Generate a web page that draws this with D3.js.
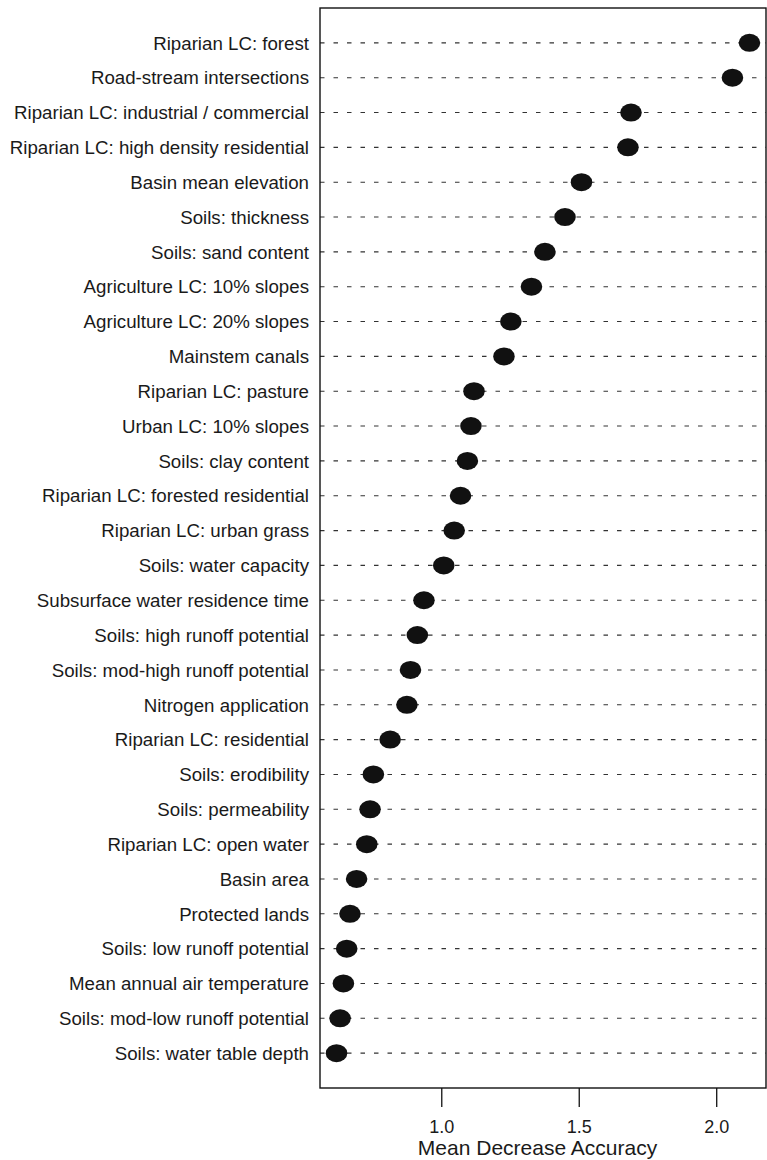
<!DOCTYPE html>
<html>
<head>
<meta charset="utf-8">
<script src="https://cdn.jsdelivr.net/npm/d3@7"></script>
<style>
  html, body { margin: 0; padding: 0; background: #fff; }
  svg { display: block; }
  text { font-family: "Liberation Sans", Arial, Helvetica, sans-serif; fill: #1a1a1a; }
</style>
</head>
<body>
<svg id="chart" width="767" height="1160"></svg>
<script>
// Predictor names, top to bottom
const variables = [
  "Riparian LC: forest",
  "Road-stream intersections",
  "Riparian LC: industrial / commercial",
  "Riparian LC: high density residential",
  "Basin mean elevation",
  "Soils: thickness",
  "Soils: sand content",
  "Agriculture LC: 10% slopes",
  "Agriculture LC: 20% slopes",
  "Mainstem canals",
  "Riparian LC: pasture",
  "Urban LC: 10% slopes",
  "Soils: clay content",
  "Riparian LC: forested residential",
  "Riparian LC: urban grass",
  "Soils: water capacity",
  "Subsurface water residence time",
  "Soils: high runoff potential",
  "Soils: mod-high runoff potential",
  "Nitrogen application",
  "Riparian LC: residential",
  "Soils: erodibility",
  "Soils: permeability",
  "Riparian LC: open water",
  "Basin area",
  "Protected lands",
  "Soils: low runoff potential",
  "Mean annual air temperature",
  "Soils: mod-low runoff potential",
  "Soils: water table depth"
];

// Mean decrease in accuracy for each predictor
const importance = [
  2.121, 2.059, 1.690, 1.679, 1.510, 1.450, 1.377, 1.328, 1.253, 1.228,
  1.119, 1.108, 1.095, 1.070, 1.047, 1.009, 0.937, 0.913, 0.888, 0.875,
  0.814, 0.753, 0.741, 0.729, 0.692, 0.668, 0.656, 0.644, 0.632, 0.619
];

const xTicks = [1.0, 1.5, 2.0];
const xTitle = "Mean Decrease Accuracy";

const svg = d3.select("#chart");
const box = { left: 320, right: 766, top: 8, bottom: 1088 };

// Axis range padded 4% on each side
const lo = d3.min(importance), hi = d3.max(importance);
const pad = (hi - lo) * 0.04;
const x = d3.scaleLinear().domain([lo - pad, hi + pad]).range([box.left, box.right]);

// Rows sit at integer positions 1..n inside [0, n+1]
const n = variables.length;
const y = d3.scaleLinear().domain([0, n + 1]).range([box.top, box.bottom]);
const rowPos = (d, i) => y(i + 1);

// Dotted guide lines
svg.append("g").selectAll("line")
  .data(variables)
  .join("line")
  .attr("x1", box.left).attr("x2", box.right)
  .attr("y1", rowPos).attr("y2", rowPos)
  .attr("stroke", "#333")
  .attr("stroke-width", 1.1)
  .attr("stroke-dasharray", "4.5 9");

// Row labels
svg.append("g").selectAll("text")
  .data(variables)
  .join("text")
  .attr("x", 309)
  .attr("y", rowPos)
  .attr("dy", "0.36em")
  .attr("text-anchor", "end")
  .attr("font-size", 18.7)
  .text(d => d);

// Points
svg.append("g").selectAll("ellipse")
  .data(importance)
  .join("ellipse")
  .attr("cx", d => x(d))
  .attr("cy", rowPos)
  .attr("rx", 10.8)
  .attr("ry", 9)
  .attr("fill", "#111");

// Plot frame
svg.append("rect")
  .attr("x", box.left).attr("y", box.top)
  .attr("width", box.right - box.left).attr("height", box.bottom - box.top)
  .attr("fill", "none").attr("stroke", "#111").attr("stroke-width", 1.4);

// Bottom axis
const axis = d3.axisBottom(x)
  .tickValues(xTicks)
  .tickFormat(d3.format(".1f"))
  .tickSize(19)
  .tickPadding(13);

const gAxis = svg.append("g")
  .attr("transform", `translate(0,${box.bottom})`)
  .call(axis);
gAxis.select(".domain").remove();
gAxis.selectAll(".tick line").attr("stroke", "#111").attr("stroke-width", 1.3);
gAxis.selectAll(".tick text")
  .attr("font-size", 18)
  .attr("font-family", "'Liberation Sans', Arial, Helvetica, sans-serif")
  .attr("fill", "#1a1a1a");

// Axis title
svg.append("text")
  .attr("x", 537.5)
  .attr("y", 1155)
  .attr("text-anchor", "middle")
  .attr("font-size", 21)
  .text(xTitle);
</script>
</body>
</html>
